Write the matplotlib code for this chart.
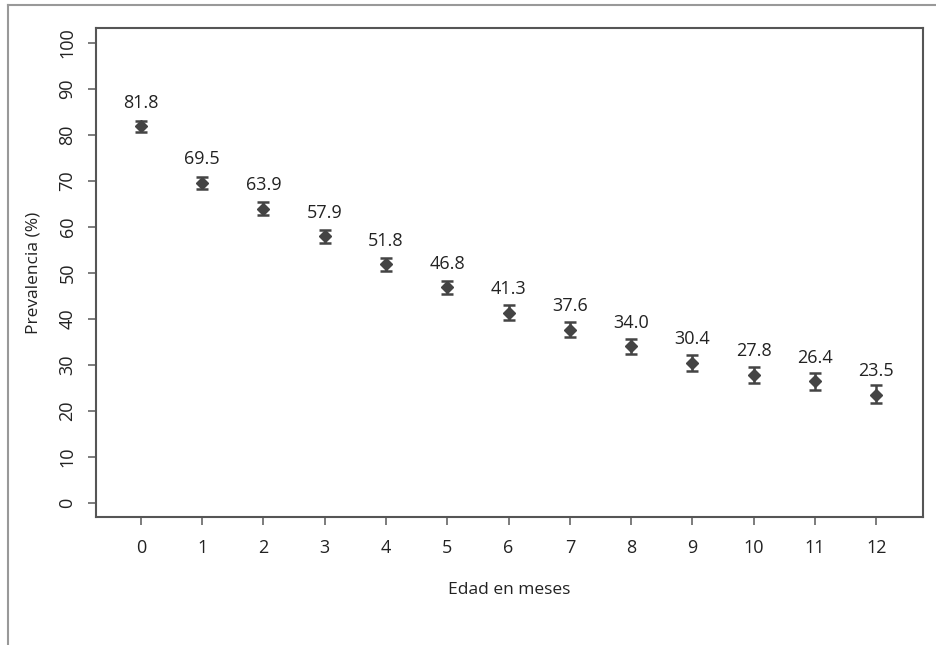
import matplotlib
matplotlib.use("Agg")
import matplotlib.pyplot as plt
from matplotlib.lines import Line2D

months = [0, 1, 2, 3, 4, 5, 6, 7, 8, 9, 10, 11, 12]
prevalence = [81.8, 69.5, 63.9, 57.9, 51.8, 46.8, 41.3, 37.6, 34.0, 30.4, 27.8, 26.4, 23.5]
ci_low = [80.6, 68.1, 62.5, 56.5, 50.3, 45.3, 39.7, 36.0, 32.3, 28.6, 26.0, 24.6, 21.6]
ci_high = [83.0, 70.9, 65.3, 59.3, 53.3, 48.3, 42.9, 39.2, 35.7, 32.2, 29.6, 28.3, 25.6]
yticks = [0, 10, 20, 30, 40, 50, 60, 70, 80, 90, 100]

plt.rcParams['font.family'] = ['Open Sans', 'DejaVu Sans']

fig = plt.figure(figsize=(9.36, 6.45), dpi=100)
ax = fig.add_axes([96/936, 1-517/645, (923-96)/936, (517-28)/645])

dark = '#444444'
yerr = [[p - l for p, l in zip(prevalence, ci_low)], [h - p for p, h in zip(prevalence, ci_high)]]
ax.errorbar(months, prevalence, yerr=yerr, fmt='D', color=dark, markersize=6.5,
            ecolor=dark, elinewidth=1.8, capsize=4, capthick=1.8)

for m, p in zip(months, prevalence):
    ax.annotate(f"{p:.1f}", (m, p), xytext=(0, 17), textcoords='offset points',
                ha='center', va='center', fontsize=13, color='#222222')

ax.set_xlim(-0.73, 12.76)
ax.set_ylim(-3.1, 103.2)
ax.set_xticks(months)
ax.set_xticklabels([str(m) for m in months])
ax.set_yticks(yticks)
ax.set_yticklabels([str(t) for t in yticks], rotation=90, va='center')

for s in ax.spines.values():
    s.set_color('#555555')
    s.set_linewidth(1.5)
ax.tick_params(axis='both', direction='out', length=6, width=1.2, color='#666666',
               labelsize=13, labelcolor='#222222')
ax.tick_params(axis='x', pad=10)
ax.tick_params(axis='y', pad=8)

ax.set_xlabel('Edad en meses', fontsize=12.5, color='#222222', labelpad=18)
ax.set_ylabel('Prevalencia (%)', fontsize=12.5, color='#222222', labelpad=12)

fig.add_artist(Line2D([8/936, 1], [1-5/645, 1-5/645], transform=fig.transFigure,
                      color='#999999', linewidth=1.5))
fig.add_artist(Line2D([8/936, 8/936], [0, 1-5/645], transform=fig.transFigure,
                      color='#999999', linewidth=1.5))

fig.savefig('out.png', dpi=100)
